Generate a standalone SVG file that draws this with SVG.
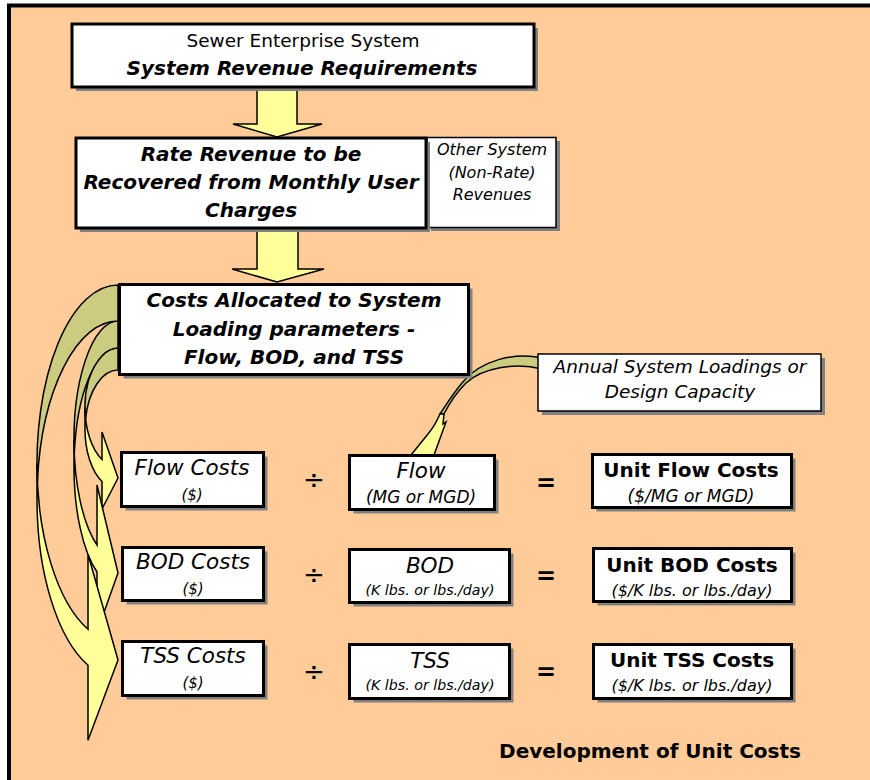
<svg xmlns="http://www.w3.org/2000/svg" width="870" height="780" viewBox="0 0 870 780">
<style>
.bg{fill:#FFCC99;stroke:#000;stroke-width:4}
.box{fill:#fff;stroke:#000;stroke-width:3}
.thin{fill:#fff;stroke:#000;stroke-width:1.5}
.sh{fill:#808080}
.fr{fill:#FFFF99;stroke:#000;stroke-width:1.5;stroke-linejoin:miter}
.bk{fill:#CCCC80;stroke:#000;stroke-width:1.5}
text{font-family:"DejaVu Sans","Liberation Sans",sans-serif;fill:#000;text-anchor:middle}
.bi{font-weight:bold;font-style:italic;font-size:20px}
.b{font-weight:bold;font-size:20px}
.i{font-style:italic}
.op{font-size:26px}
.eq{font-size:24px;font-weight:bold}
</style>
<rect x="0" y="0" width="870" height="780" fill="#fff"/>
<rect class="bg" x="9" y="5.5" width="875" height="790"/>

<g id="connectors">
  <polygon class="fr" points="257,86 297,86 297,124 322,124 277,137 233,124 257,124"/>
  <polygon class="fr" points="257,228 298,228 298,269 324,269 277,282 232,269 257,269"/>
  <!-- curved arrow to Flow Costs -->
  <path class="fr" d="M85,407.5 A33 59.5 0 0 0 102,459.5 L102,432 L118,478 L102,509 L102,481.5 A33 59.5 0 0 1 85,429.5 Z"/>
  <path class="bk" d="M118,370 A33 59.5 0 0 0 85.6,418.5 A33 59.5 0 0 1 118,348 Z"/>
  <!-- curved arrow to BOD Costs -->
  <path class="fr" d="M74,440.25 A44 119.25 0 0 0 97,545 L97,485 L118,573 L97,632 L97,572 A44 119.25 0 0 1 74,467.25 Z"/>
  <path class="bk" d="M118,348 A44 119.25 0 0 0 74.3,453.75 A44 119.25 0 0 1 118,321 Z"/>
  <!-- curved arrow to TSS Costs -->
  <path class="fr" d="M37,463.5 A81 178.5 0 0 0 88,629.3 L88,554.3 L118,660 L88,740.3 L88,665.3 A81 178.5 0 0 1 37,499.5 Z"/>
  <path class="bk" d="M118,321 A81 178.5 0 0 0 37.4,481.5 A81 178.5 0 0 1 118,285 Z"/>
  <!-- curved arrow from Annual System Loadings to Flow -->
  <path class="bk" d="M542,358 C515,352 480,360 462,383 C452,395 446,405 440,414 L444,414 C449,404 455,394 466,383 C482,368 515,362 542,369 Z"/>
  <path class="fr" d="M440,414 C437,421 433,428 428,434 L411,455 L434,455 L446,422 L443,424 L444,414 Z"/>
</g>

<g id="n-sewer">
  <rect class="sh" x="76" y="28" width="462" height="63"/>
  <rect class="box" x="72" y="24" width="462" height="63"/>
  <text x="303" y="47" style="font-size:18.5px">Sewer Enterprise System</text>
  <text class="bi" x="302" y="75">System Revenue Requirements</text>
</g>

<g id="n-other">
  <rect class="sh" x="431" y="141" width="129" height="90"/>
  <rect class="thin" x="427" y="137.5" width="129" height="90"/>
  <text class="i" x="492" y="155" style="font-size:16px">Other System</text>
  <text class="i" x="492" y="178" style="font-size:16px">(Non-Rate)</text>
  <text class="i" x="492" y="200" style="font-size:16px">Revenues</text>
</g>

<g id="n-rate">
  <rect class="sh" x="80" y="142" width="350" height="90"/>
  <rect class="box" x="76" y="138" width="350" height="90"/>
  <text class="bi" x="251" y="161">Rate Revenue to be</text>
  <text class="bi" x="251" y="189">Recovered from Monthly User</text>
  <text class="bi" x="251" y="217">Charges</text>
</g>

<g id="n-alloc">
  <rect class="sh" x="123.5" y="288.5" width="349" height="90"/>
  <rect class="box" x="119.5" y="284.5" width="349" height="90"/>
  <text class="bi" x="294" y="307">Costs Allocated to System</text>
  <text class="bi" x="294" y="336">Loading parameters -</text>
  <text class="bi" x="294" y="364">Flow, BOD, and TSS</text>
</g>

<g id="n-annual">
  <rect class="sh" x="542" y="358" width="283" height="57"/>
  <rect class="thin" x="538" y="354" width="283" height="57"/>
  <text class="i" x="680" y="373" style="font-size:18.5px">Annual System Loadings or</text>
  <text class="i" x="680" y="398" style="font-size:18.5px">Design Capacity</text>
</g>

<g id="n-flowcosts">
  <rect class="sh" x="125.5" y="456.5" width="142" height="54"/>
  <rect class="box" x="121.5" y="452.5" width="142" height="54"/>
  <text class="i" x="192" y="475" style="font-size:21.5px">Flow Costs</text>
  <text class="i" x="192" y="500" style="font-size:15px">($)</text>
</g>
<g id="n-flow">
  <rect class="sh" x="353.5" y="459.5" width="145" height="54"/>
  <rect class="box" x="349.5" y="455.5" width="145" height="54"/>
  <text class="i" x="421" y="478" style="font-size:21.5px">Flow</text>
  <text class="i" x="421" y="503" style="font-size:17px">(MG or MGD)</text>
</g>
<g id="n-unitflow">
  <rect class="sh" x="596.5" y="458.5" width="199" height="53"/>
  <rect class="box" x="592.5" y="454.5" width="199" height="53"/>
  <text class="b" x="691" y="477">Unit Flow Costs</text>
  <text class="i" x="691" y="502" style="font-size:17px">($/MG or MGD)</text>
</g>

<g id="n-bodcosts">
  <rect class="sh" x="126.5" y="551.5" width="141" height="53"/>
  <rect class="box" x="122.5" y="547.5" width="141" height="53"/>
  <text class="i" x="193" y="569" style="font-size:21.5px">BOD Costs</text>
  <text class="i" x="193" y="594" style="font-size:15px">($)</text>
</g>
<g id="n-bod">
  <rect class="sh" x="353.5" y="553.5" width="160" height="53"/>
  <rect class="box" x="349.5" y="549.5" width="160" height="53"/>
  <text class="i" x="430" y="573" style="font-size:21.5px">BOD</text>
  <text class="i" x="430" y="595" style="font-size:14.2px">(K lbs. or lbs./day)</text>
</g>
<g id="n-unitbod">
  <rect class="sh" x="597.5" y="552.5" width="198" height="53"/>
  <rect class="box" x="593.5" y="548.5" width="198" height="53"/>
  <text class="b" x="692" y="572">Unit BOD Costs</text>
  <text class="i" x="692" y="596" style="font-size:16px">($/K lbs. or lbs./day)</text>
</g>

<g id="n-tsscosts">
  <rect class="sh" x="126.5" y="645.5" width="141" height="54"/>
  <rect class="box" x="122.5" y="641.5" width="141" height="54"/>
  <text class="i" x="193" y="663" style="font-size:21.5px">TSS Costs</text>
  <text class="i" x="193" y="688" style="font-size:15px">($)</text>
</g>
<g id="n-tss">
  <rect class="sh" x="353.5" y="648.5" width="160" height="54"/>
  <rect class="box" x="349.5" y="644.5" width="160" height="54"/>
  <text class="i" x="430" y="668" style="font-size:21.5px">TSS</text>
  <text class="i" x="430" y="690" style="font-size:14.2px">(K lbs. or lbs./day)</text>
</g>
<g id="n-unittss">
  <rect class="sh" x="597.5" y="648.5" width="198" height="54"/>
  <rect class="box" x="593.5" y="644.5" width="198" height="54"/>
  <text class="b" x="692" y="667">Unit TSS Costs</text>
  <text class="i" x="692" y="691" style="font-size:16px">($/K lbs. or lbs./day)</text>
</g>

<g id="operators">
  <text class="op" x="314" y="489">÷</text>
  <text class="op" x="314" y="584">÷</text>
  <text class="op" x="314" y="681">÷</text>
  <text class="eq" x="546" y="491">=</text>
  <text class="eq" x="546" y="584">=</text>
  <text class="eq" x="546" y="680">=</text>
</g>

<g id="title">
  <text class="b" x="650" y="758">Development of Unit Costs</text>
</g>
</svg>
